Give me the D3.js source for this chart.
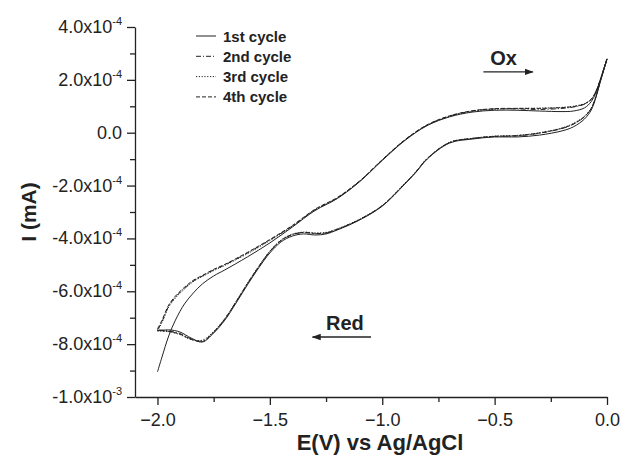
<!DOCTYPE html>
<html>
<head>
<meta charset="utf-8">
<script src="https://cdn.jsdelivr.net/npm/d3@7"></script>
<style>
  body { margin: 0; background: #fff; }
  svg { display: block; font-family: "Liberation Sans", Arial, sans-serif; }
</style>
</head>
<body>
<div id="chart"></div>
<script>
// potentials in V vs Ag/AgCl, currents in units of 1e-4 mA
const upperE = [-2.0, -1.98, -1.95, -1.92, -1.88, -1.84, -1.8, -1.75, -1.7, -1.6, -1.5, -1.4, -1.3, -1.2, -1.1, -1.0,
  -0.9, -0.8, -0.7, -0.6, -0.5, -0.4, -0.3, -0.2, -0.15, -0.1, -0.07, -0.05, -0.03, 0.0];
const lowerE = [0.0, -0.03, -0.05, -0.07, -0.1, -0.15, -0.2, -0.3, -0.4, -0.5, -0.6, -0.7, -0.8, -0.85, -0.9, -1.0,
  -1.1, -1.2, -1.25, -1.3, -1.35, -1.4, -1.45, -1.5, -1.55, -1.6, -1.65, -1.7, -1.75, -1.8, -1.85, -1.9, -1.95, -2.0];

// anodic (return) sweep, -2.0 -> 0.0 V
const cycle1Upper = [-9.05, -8.49, -7.69, -7.09, -6.48, -6.06, -5.72, -5.42, -5.19, -4.70, -4.17, -3.57, -2.95, -2.49,
  -1.85, -1.05, -0.30, 0.27, 0.60, 0.78, 0.85, 0.85, 0.82, 0.80, 0.82, 0.94, 1.18, 1.50, 1.98, 2.78];
const cycle2Upper = [-7.46, -7.15, -6.56, -6.22, -5.88, -5.61, -5.42, -5.19, -5.00, -4.55, -4.06, -3.53, -2.92, -2.47,
  -1.83, -1.03, -0.28, 0.29, 0.63, 0.82, 0.90, 0.90, 0.88, 0.92, 0.97, 1.08, 1.26, 1.55, 2.00, 2.80];
const cycle3Upper = [-7.50, -7.18, -6.60, -6.25, -5.92, -5.63, -5.44, -5.22, -5.02, -4.58, -4.08, -3.55, -2.93, -2.48,
  -1.84, -1.04, -0.29, 0.28, 0.62, 0.81, 0.89, 0.92, 0.93, 0.96, 1.00, 1.10, 1.27, 1.55, 2.00, 2.80];
const cycle4Upper = [-7.42, -7.10, -6.52, -6.18, -5.85, -5.58, -5.40, -5.17, -4.98, -4.53, -4.04, -3.51, -2.90, -2.45,
  -1.82, -1.02, -0.27, 0.30, 0.64, 0.83, 0.91, 0.92, 0.92, 0.95, 0.99, 1.09, 1.27, 1.55, 2.00, 2.80];

// cathodic sweep, 0.0 -> -2.0 V
const cycle1Lower = [2.78, 1.92, 1.31, 0.86, 0.52, 0.22, 0.07, -0.09, -0.16, -0.16, -0.24, -0.39, -1.00, -1.50, -1.95,
  -2.78, -3.30, -3.68, -3.83, -3.87, -3.83, -3.91, -4.13, -4.55, -5.12, -5.76, -6.44, -7.09, -7.58, -7.92, -7.77,
  -7.54, -7.46, -7.50];
const cycle2Lower = [2.80, 1.95, 1.35, 0.92, 0.60, 0.32, 0.16, -0.02, -0.12, -0.14, -0.22, -0.37, -0.98, -1.48, -1.93,
  -2.76, -3.28, -3.66, -3.80, -3.82, -3.78, -3.86, -4.08, -4.50, -5.08, -5.72, -6.40, -7.05, -7.55, -7.88, -7.80,
  -7.60, -7.50, -7.46];
const cycle3Lower = [2.80, 1.95, 1.36, 0.94, 0.63, 0.35, 0.18, 0.00, -0.10, -0.13, -0.21, -0.36, -0.97, -1.47, -1.92,
  -2.75, -3.27, -3.64, -3.77, -3.79, -3.76, -3.84, -4.06, -4.48, -5.06, -5.70, -6.38, -7.03, -7.52, -7.85, -7.83,
  -7.64, -7.53, -7.50];
const cycle4Lower = [2.80, 1.94, 1.34, 0.92, 0.61, 0.33, 0.17, -0.01, -0.11, -0.14, -0.22, -0.37, -0.98, -1.48, -1.93,
  -2.76, -3.28, -3.65, -3.79, -3.81, -3.77, -3.85, -4.07, -4.49, -5.07, -5.71, -6.39, -7.04, -7.54, -7.90, -7.82,
  -7.62, -7.52, -7.48];

const cycleNames = ['1st cycle', '2nd cycle', '3rd cycle', '4th cycle'];
const xTicks = [-2.0, -1.5, -1.0, -0.5, 0.0];
const xMinorTicks = [-1.75, -1.25, -0.75, -0.25];
const yTicks = [4, 2, 0, -2, -4, -6, -8, -10];
const yMinorTicks = [3, 1, -1, -3, -5, -7, -9];
const yTickBase = ['4.0x10', '2.0x10', '0.0', '-2.0x10', '-4.0x10', '-6.0x10', '-8.0x10', '-1.0x10'];
const yTickExp = ['-4', '-4', '', '-4', '-4', '-4', '-4', '-3'];

const width = 624;
const height = 457;
const margin = { top: 27, right: 17, bottom: 60, left: 135 };

const xScale = d3.scaleLinear().domain([-2.1, 0.0]).range([margin.left, width - margin.right]);
const yScale = d3.scaleLinear().domain([-10, 4]).range([height - margin.bottom, margin.top]);

const svg = d3.select('#chart').append('svg').attr('width', width).attr('height', height);

svg.append('defs').append('marker')
  .attr('id', 'head')
  .attr('viewBox', '0 0 10 10')
  .attr('refX', 9).attr('refY', 5)
  .attr('markerWidth', 7).attr('markerHeight', 7)
  .attr('orient', 'auto-start-reverse')
  .append('path').attr('d', 'M0,1.5 L10,5 L0,8.5 Z').attr('fill', '#222');

// curves
const cycles = [
  { upper: cycle1Upper, lower: cycle1Lower, dash: null },
  { upper: cycle2Upper, lower: cycle2Lower, dash: '5,2,1,2' },
  { upper: cycle3Upper, lower: cycle3Lower, dash: '1.2,1.6' },
  { upper: cycle4Upper, lower: cycle4Lower, dash: '4,2' },
];

const line = d3.line()
  .x((d) => xScale(d[0]))
  .y((d) => yScale(d[1]))
  .curve(d3.curveCatmullRom.alpha(0.5));

cycles.slice().reverse().forEach((c) => {
  const pts = upperE.map((e, i) => [e, c.upper[i]])
    .concat(lowerE.slice(1).map((e, i) => [e, c.lower[i + 1]]));
  svg.append('path')
    .attr('d', line(pts))
    .attr('fill', 'none')
    .attr('stroke', '#222')
    .attr('stroke-width', 1)
    .attr('stroke-dasharray', c.dash);
});

// axes
const gx = svg.append('g')
  .attr('transform', `translate(0,${height - margin.bottom})`)
  .call(d3.axisBottom(xScale).tickValues(xTicks).tickSize(8).tickSizeOuter(0).tickFormat(d3.format('.1f')));
svg.append('g')
  .attr('transform', `translate(0,${height - margin.bottom})`)
  .call(d3.axisBottom(xScale).tickValues(xMinorTicks).tickSize(5).tickSizeOuter(0).tickFormat(''))
  .select('.domain').remove();

const gy = svg.append('g')
  .attr('transform', `translate(${margin.left},0)`)
  .call(d3.axisLeft(yScale).tickValues(yTicks).tickSize(8).tickSizeOuter(0).tickFormat(''));
svg.append('g')
  .attr('transform', `translate(${margin.left},0)`)
  .call(d3.axisLeft(yScale).tickValues(yMinorTicks).tickSize(5).tickSizeOuter(0).tickFormat(''))
  .select('.domain').remove();

svg.selectAll('.domain, .tick line').attr('stroke', '#222').attr('stroke-width', 1.3);

gx.selectAll('.tick text')
  .attr('font-size', 18)
  .attr('fill', '#222')
  .attr('dy', '1.0em')
  .attr('font-family', '"Liberation Sans", Arial, sans-serif');

const yLabels = gy.selectAll('.ylab')
  .data(yTicks)
  .enter()
  .append('text')
  .attr('class', 'ylab')
  .attr('x', -13)
  .attr('y', (d) => yScale(d) + 6)
  .attr('text-anchor', 'end')
  .attr('font-size', 18)
  .attr('fill', '#222');
yLabels.append('tspan').text((d, i) => yTickBase[i]);
yLabels.append('tspan')
  .attr('dy', -8)
  .attr('font-size', 11)
  .text((d, i) => yTickExp[i]);

// axis titles
svg.append('text')
  .attr('x', (xScale(-2.1) + xScale(0)) / 2 + 9)
  .attr('y', 450)
  .attr('text-anchor', 'middle')
  .attr('font-size', 22)
  .attr('font-weight', 'bold')
  .attr('fill', '#222')
  .text('E(V) vs Ag/AgCl');

svg.append('text')
  .attr('transform', `translate(36,${(yScale(4) + yScale(-10)) / 2}) rotate(-90)`)
  .attr('text-anchor', 'middle')
  .attr('font-size', 21)
  .attr('font-weight', 'bold')
  .attr('fill', '#222')
  .text('I (mA)');

// legend
const legend = svg.append('g').attr('transform', 'translate(196,36)');
cycleNames.forEach((name, i) => {
  const row = legend.append('g').attr('transform', `translate(0,${i * 20.3})`);
  row.append('line')
    .attr('x1', 0).attr('x2', 20)
    .attr('stroke', '#222')
    .attr('stroke-width', 1)
    .attr('stroke-dasharray', cycles[i].dash);
  row.append('text')
    .attr('x', 27)
    .attr('y', 5.5)
    .attr('font-size', 15)
    .attr('font-weight', 'bold')
    .attr('fill', '#222')
    .text(name);
});

// sweep direction annotations
svg.append('text')
  .attr('x', xScale(-0.46))
  .attr('y', yScale(2.3) - 7)
  .attr('text-anchor', 'middle')
  .attr('font-size', 20)
  .attr('font-weight', 'bold')
  .attr('fill', '#222')
  .text('Ox');
svg.append('line')
  .attr('x1', xScale(-0.55)).attr('x2', xScale(-0.33))
  .attr('y1', yScale(2.3)).attr('y2', yScale(2.3))
  .attr('stroke', '#222').attr('stroke-width', 1.3)
  .attr('marker-end', 'url(#head)');

svg.append('text')
  .attr('x', xScale(-1.166))
  .attr('y', yScale(-7.73) - 7)
  .attr('text-anchor', 'middle')
  .attr('font-size', 20)
  .attr('font-weight', 'bold')
  .attr('fill', '#222')
  .text('Red');
svg.append('line')
  .attr('x1', xScale(-1.05)).attr('x2', xScale(-1.31))
  .attr('y1', yScale(-7.73)).attr('y2', yScale(-7.73))
  .attr('stroke', '#222').attr('stroke-width', 1.3)
  .attr('marker-end', 'url(#head)');
</script>
</body>
</html>
